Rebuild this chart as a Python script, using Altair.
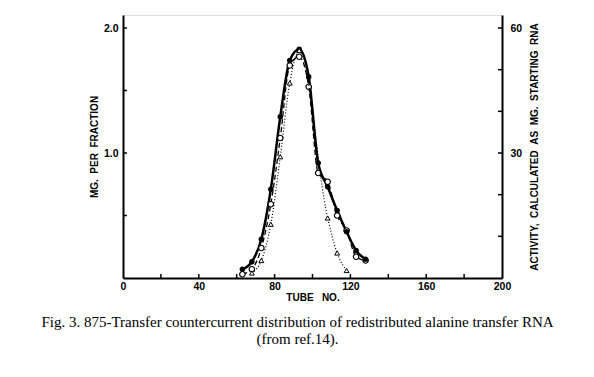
import altair as alt
import pandas as pd

# ---- data ----
tube_filled = [63, 68, 73, 78, 83, 88, 93, 98, 103, 108, 113, 118, 123, 128]
mg_filled = [0.07, 0.13, 0.31, 0.71, 1.29, 1.74, 1.83, 1.61, 0.92, 0.73, 0.54, 0.37, 0.22, 0.15]

tube_open = [63, 68, 73, 78, 83, 88, 93, 98, 103, 108, 113, 118, 123, 128]
mg_open = [0.03, 0.07, 0.24, 0.59, 1.12, 1.70, 1.77, 1.53, 0.84, 0.77, 0.50, 0.38, 0.17, 0.14]

tube_act = [68, 73, 78, 83, 88, 93, 108, 113, 118]
activity = [1.2, 4.2, 12.9, 29.1, 46.8, 54.6, 14.4, 6.0, 1.8]

x_labels = [0, 40, 80, 120, 160, 200]
x_ticks = [20, 40, 60, 80, 100, 120, 140, 160, 180]
left_labels = [1.0, 2.0]
left_ticks = [0.5, 1.0, 1.5, 2.0]
right_labels = [30, 60]
right_ticks = [10, 20, 30, 40, 50, 60]

caption = [
    "Fig. 3. 875-Transfer countercurrent distribution of redistributed alanine transfer RNA",
    "(from ref.14).",
]

W, H = 379, 263
FONT = "Liberation Sans"
NB = "\u00a0"

df_f = pd.DataFrame({"tube": tube_filled, "value": mg_filled})
df_o = pd.DataFrame({"tube": tube_open, "value": mg_open})
df_a = pd.DataFrame({"tube": tube_act, "value": activity})
df_xt = pd.DataFrame({"t": x_ticks})
df_lt = pd.DataFrame({"t": left_ticks})
df_rt = pd.DataFrame({"t": right_ticks})

xs = alt.Scale(domain=[0, 200], nice=False, zero=False)
yl = alt.Scale(domain=[0, 2.104], nice=False)
yr = alt.Scale(domain=[0, 63.12], nice=False)

common = dict(ticks=False, domain=True, domainColor="black", domainWidth=2, grid=False,
              labelFont=FONT, labelFontWeight="bold",
              labelFontSize=10.5, labelColor="black", titleFont=FONT, titleFontWeight="bold",
              titleFontSize=10, titleColor="black", labelOverlap=False)

x_axis = alt.Axis(values=x_labels, title=f"TUBE{NB*3}NO.", labelFlush=False, labelPadding=3,
                  titlePadding=1, tickSize=0, **common)
yl_axis = alt.Axis(values=left_labels, format=".1f", title=f"MG.{NB*2}PER{NB*2}FRACTION",
                   labelPadding=5, titlePadding=4, tickSize=0, **common)
yr_axis = alt.Axis(values=right_labels, format="d",
                   title=f"ACTIVITY,{NB*2}CALCULATED{NB*2}AS{NB*2}MG.{NB*2}STARTING{NB*2}RNA",
                   orient="right", labelPadding=8, titlePadding=8, titleAngle=270,
                   titleBaseline="top", tickSize=0, **common)

X = alt.X("tube:Q", scale=xs, axis=x_axis)

line_f = alt.Chart(df_f).mark_line(color="black", strokeWidth=2.5, interpolate="monotone").encode(
    x=X, y=alt.Y("value:Q", scale=yl, axis=yl_axis))
pts_f = alt.Chart(df_f).mark_point(filled=True, shape="circle", size=30, color="black", opacity=1).encode(
    x=alt.X("tube:Q", scale=xs), y=alt.Y("value:Q", scale=yl))
line_o = alt.Chart(df_o).mark_line(color="black", strokeWidth=1.3, strokeDash=[5, 3],
                                   interpolate="monotone").encode(
    x=alt.X("tube:Q", scale=xs), y=alt.Y("value:Q", scale=yl))
pts_o = alt.Chart(df_o).mark_point(shape="circle", size=30, color="black", fill="white",
                                   filled=False, strokeWidth=1.2, opacity=1).encode(
    x=alt.X("tube:Q", scale=xs), y=alt.Y("value:Q", scale=yl))
xt = alt.Chart(df_xt).mark_rule(color="black", strokeWidth=1.5).encode(
    x=alt.X("t:Q", scale=xs), y=alt.value(H), y2=alt.value(H - 4))
lt = alt.Chart(df_lt).mark_rule(color="black", strokeWidth=1.5).encode(
    y=alt.Y("t:Q", scale=yl), x=alt.value(0), x2=alt.value(4))

left = alt.layer(line_f, line_o, pts_o, pts_f, xt, lt)

line_a = alt.Chart(df_a).mark_line(color="black", strokeWidth=1.2, strokeDash=[1, 2],
                                   interpolate="monotone").encode(
    x=alt.X("tube:Q", scale=xs), y=alt.Y("value:Q", scale=yr, axis=yr_axis))
pts_a = alt.Chart(df_a).mark_point(shape="triangle-up", size=24, color="black", fill="white",
                                   filled=False, strokeWidth=1, opacity=1).encode(
    x=alt.X("tube:Q", scale=xs), y=alt.Y("value:Q", scale=yr))
rt = alt.Chart(df_rt).mark_rule(color="black", strokeWidth=1.5).encode(
    y=alt.Y("t:Q", scale=yr), x=alt.value(W), x2=alt.value(W - 4))

right = alt.layer(line_a, pts_a, rt)

chart = alt.layer(left, right).resolve_scale(y="independent").properties(
    width=W, height=H,
    autosize=alt.AutoSizeParams(type="none"),
    padding={"left": 123, "top": 15, "right": 92, "bottom": 99},
    title=alt.TitleParams(text=caption, orient="bottom", anchor="middle", frame="group",
                          font="Liberation Serif", fontSize=15, fontWeight="normal",
                          color="black", lineHeight=17, offset=12, dx=-15),
).configure_view(stroke="#666666", strokeWidth=1).configure(background="white")

chart.save("out.html", embed_options={"renderer": "svg", "actions": False})
